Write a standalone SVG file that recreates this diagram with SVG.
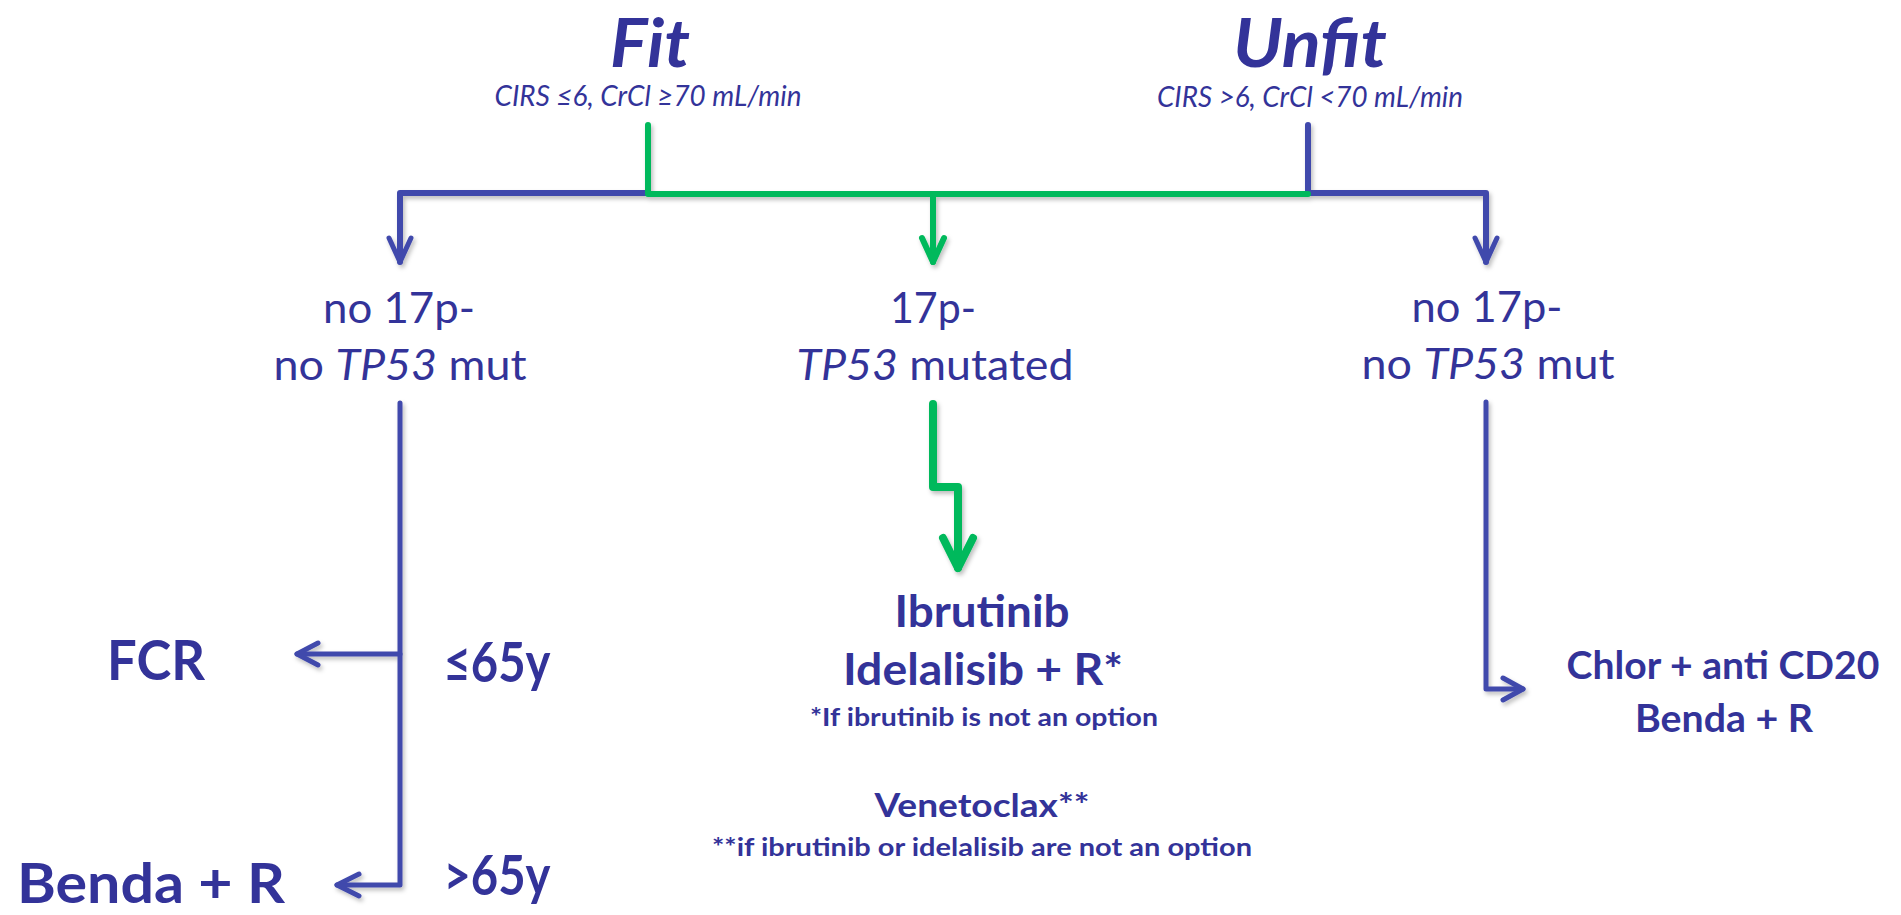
<svg xmlns="http://www.w3.org/2000/svg" width="1901" height="915" viewBox="0 0 1901 915">
<defs>
<style>
text{font-family:Lato,"Noto Sans","Liberation Sans",sans-serif;fill:#333399;text-anchor:middle}
.h{font-size:67px;font-weight:bold;font-style:italic}
.c{font-size:28px;font-style:italic}
.m{font-size:42px}
.b{font-weight:bold}
.it{font-style:italic}
.blue{stroke:#4049AC;fill:none;stroke-width:5;stroke-linecap:round;stroke-linejoin:round}
.green{stroke:#00B95B;fill:none;stroke-width:6;stroke-linecap:round;stroke-linejoin:round}
</style>
<filter id="sh" x="-10%" y="-10%" width="130%" height="130%">
<feDropShadow dx="2" dy="3" stdDeviation="2" flood-color="#000" flood-opacity="0.25"/>
</filter>
</defs>
<rect width="1901" height="915" fill="#fff"/>

<g id="connectors" filter="url(#sh)">
<path class="blue" style="stroke-width:6" d="M648 193 H400 V262"/>
<path class="blue" d="M389 238 L400 262 L411 238"/>
<path class="blue" style="stroke-width:6" d="M1308 125 V193 H1486 V262"/>
<path class="blue" d="M1475 238 L1486 262 L1497 238"/>
<path class="green" d="M648 125 V194 H1308"/>
<path class="green" d="M933 194 V262"/>
<path class="green" d="M922 238 L933 262 L944 238"/>
<path class="blue" d="M400 403 V885 H337"/>
<path class="blue" d="M400 654 H297"/>
<path class="blue" d="M318 643 L297 654 L318 665"/>
<path class="blue" d="M359 874 L337 885 L359 896"/>
<path class="blue" d="M1486 402 V689 H1523"/>
<path class="blue" d="M1503 678 L1523 689 L1503 700"/>
<path class="green" style="stroke-width:8" d="M933 404 V487 H958 V568"/>
<path class="green" style="stroke-width:8" d="M943 538 L958 568 L973 538"/>
</g>

<g id="fit">
<text class="h" x="650" y="67" textLength="80" lengthAdjust="spacingAndGlyphs">Fit</text>
<text class="c" x="648" y="106" textLength="307" lengthAdjust="spacingAndGlyphs">CIRS ≤6, CrCl ≥70 mL/min</text>
</g>
<g id="unfit">
<text class="h" x="1310" y="67" textLength="154" lengthAdjust="spacingAndGlyphs">Unfit</text>
<text class="c" x="1310" y="107" textLength="306" lengthAdjust="spacingAndGlyphs">CIRS &gt;6, CrCl &lt;70 mL/min</text>
</g>
<g id="fit-no17p">
<text class="m" x="399" y="323" textLength="152" lengthAdjust="spacingAndGlyphs">no 17p-</text>
<text class="m" x="400" y="380" textLength="253" lengthAdjust="spacingAndGlyphs">no <tspan class="it">TP53</tspan> mut</text>
</g>
<g id="del17p">
<text class="m" x="933" y="323" textLength="86" lengthAdjust="spacingAndGlyphs">17p-</text>
<text class="m" x="935" y="380" textLength="277" lengthAdjust="spacingAndGlyphs"><tspan class="it">TP53</tspan> mutated</text>
</g>
<g id="unfit-no17p">
<text class="m" x="1487" y="322" textLength="151" lengthAdjust="spacingAndGlyphs">no 17p-</text>
<text class="m" x="1488" y="379" textLength="253" lengthAdjust="spacingAndGlyphs">no <tspan class="it">TP53</tspan> mut</text>
</g>
<g id="fcr">
<text class="b" style="font-size:56px" x="156" y="680" textLength="98" lengthAdjust="spacingAndGlyphs">FCR</text>
<text class="b" style="font-size:56px" x="497" y="682" textLength="107" lengthAdjust="spacingAndGlyphs">≤65y</text>
</g>
<g id="benda-left">
<text class="b" style="font-size:56px" x="151" y="903" textLength="268" lengthAdjust="spacingAndGlyphs">Benda + R</text>
<text class="b" style="font-size:56px" x="497" y="895" textLength="107" lengthAdjust="spacingAndGlyphs">&gt;65y</text>
</g>
<g id="ibrutinib">
<text class="b" style="font-size:43px" x="982" y="627" textLength="175" lengthAdjust="spacingAndGlyphs">Ibrutinib</text>
<text class="b" style="font-size:43px" x="983" y="685" textLength="280" lengthAdjust="spacingAndGlyphs">Idelalisib + R*</text>
<text class="b" style="font-size:24px" x="984" y="726" textLength="348" lengthAdjust="spacingAndGlyphs">*If ibrutinib is not an option</text>
</g>
<g id="venetoclax">
<text class="b" style="font-size:32px" x="982" y="817" textLength="215" lengthAdjust="spacingAndGlyphs">Venetoclax**</text>
<text class="b" style="font-size:24px" x="982" y="856" textLength="540" lengthAdjust="spacingAndGlyphs">**if ibrutinib or idelalisib are not an option</text>
</g>
<g id="chlor">
<text class="b" style="font-size:39px" x="1723" y="679" textLength="313" lengthAdjust="spacingAndGlyphs">Chlor + anti CD20</text>
<text class="b" style="font-size:39px" x="1724" y="732" textLength="178" lengthAdjust="spacingAndGlyphs">Benda + R</text>
</g>
</svg>
